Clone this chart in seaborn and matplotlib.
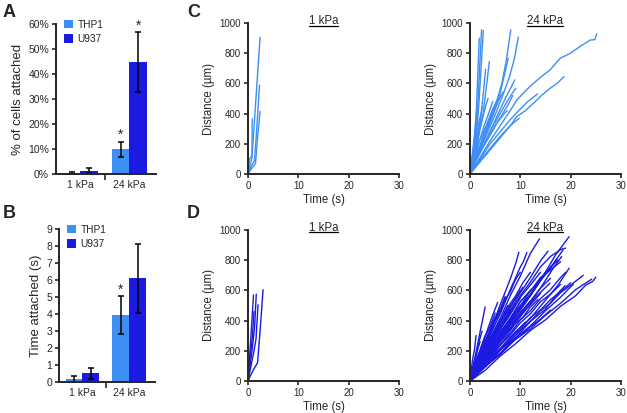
import numpy as np
import pandas as pd
import seaborn as sns
import matplotlib.pyplot as plt
from matplotlib.lines import Line2D
from matplotlib.ticker import PercentFormatter, MultipleLocator

# ---- bar data (panels A, B) ----
stiffness = ["1 kPa", "24 kPa"]
cell_lines = ["THP1", "U937"]
thp1_pct = [0.5, 10.0]
u937_pct = [1.3, 44.7]
thp1_pct_err = [0.4, 3.0]
u937_pct_err = [1.0, 12.0]
thp1_time = [0.16, 3.94]
u937_time = [0.5, 6.1]
thp1_time_err = [0.18, 1.1]
u937_time_err = [0.3, 2.05]
stars_a = [False, False, True, True]   # order: 1kPa THP1, 1kPa U937, 24kPa THP1, 24kPa U937
stars_b = [False, False, True, False]

# ---- trajectories (time s, distance um) ----
thp1_1kpa_tracks = [
    ([0, 0.3, 0.8, 0.85], [0, 100, 120, 365]),
    ([0, 0.8, 2.4], [0, 110, 905]),
    ([0, 0.5, 1.3, 1.6, 2.3], [0, 40, 90, 230, 590]),
    ([0, 0.6, 1.5, 1.8, 2.4], [0, 30, 70, 200, 415]),
]
thp1_24kpa_tracks = [
    ([0, 0.4, 0.9, 1.3, 1.6, 1.85], [0, 90, 240, 450, 700, 900]),
    ([0, 0.5, 1.0, 1.5, 1.9, 2.3], [0, 80, 210, 420, 690, 955]),
    ([0, 0.6, 1.2, 1.7, 2.2, 2.65], [0, 70, 230, 430, 700, 950]),
    ([0, 0.7, 1.4, 2.0, 2.6, 3.1], [0, 90, 200, 330, 520, 694]),
    ([0, 0.9, 1.8, 2.6, 3.3, 3.85], [0, 110, 260, 400, 590, 745]),
    ([0, 0.3, 0.8, 1.4], [0, 80, 230, 420]),
    ([0, 0.6, 1.2, 1.8, 2.4], [0, 70, 170, 300, 445]),
    ([0, 0.5, 1.1, 1.7, 2.1], [0, 120, 220, 330, 390]),
    ([0, 0.3, 0.7, 1.2], [0, 60, 170, 330]),
    ([0, 0.9, 2.0, 3.1, 4.2, 5.3, 6.4, 7.3, 8.1], [0, 100, 190, 300, 390, 480, 610, 770, 955]),
    ([0, 1.1, 2.4, 3.8, 5.1, 6.5, 7.8, 8.8, 9.6], [0, 90, 190, 300, 400, 520, 640, 760, 907]),
    ([0, 1.0, 2.1, 3.3, 4.6, 5.8, 6.8, 7.6], [0, 80, 170, 280, 390, 510, 650, 767]),
    ([0, 1.4, 2.9, 4.3, 5.8, 7.2, 8.3, 9.1], [0, 110, 200, 300, 390, 470, 530, 568]),
    ([0, 1.3, 2.7, 4.1, 5.6, 7.0, 8.1, 8.9], [0, 100, 190, 290, 400, 500, 570, 623]),
    ([0, 1.1, 2.3, 3.6, 4.9, 5.9, 6.6], [0, 100, 210, 320, 430, 500, 545]),
    ([0, 0.9, 1.9, 3.2, 4.5, 5.4, 6.0], [0, 110, 220, 320, 430, 490, 520]),
    ([0, 1.0, 2.3, 3.6, 4.6, 5.5], [0, 90, 210, 320, 410, 470]),
    ([0, 0.8, 1.8, 2.8, 3.7, 4.5], [0, 100, 210, 320, 400, 480]),
    ([0, 1.4, 2.8, 4.2, 5.6, 6.8, 7.4], [0, 100, 190, 270, 350, 400, 420]),
    ([0, 1.0, 2.4, 3.8, 5.2, 6.5, 7.6, 8.5], [0, 90, 170, 250, 330, 400, 460, 520]),
    ([0, 0.7, 1.6, 2.5, 3.1, 3.6], [0, 130, 260, 370, 450, 500]),
    ([0, 0.8, 1.6, 2.2, 2.6], [0, 140, 260, 340, 390]),
    ([0, 2, 4, 6, 8, 9.3, 11, 12.6, 14, 15.9, 17.9, 19.9, 21.9, 23.9, 24.8, 25.2],
     [0, 110, 220, 320, 420, 490, 550, 600, 640, 689, 766, 799, 845, 887, 890, 929]),
    ([0, 2, 4, 6, 8, 9.3, 11, 12.6, 14.2, 15.9, 17.3, 18.7],
     [0, 80, 160, 240, 320, 380, 420, 468, 520, 567, 600, 645]),
    ([0, 2, 4, 6, 8, 10, 11.5, 13.4], [0, 100, 200, 280, 360, 430, 480, 530]),
    ([0, 2, 4, 6, 8, 9.8], [0, 90, 170, 250, 320, 370]),
]
u937_1kpa_tracks = [
    ([0, 0.5, 1.1], [0, 250, 570]),
    ([0, 0.8, 1.3, 1.65], [0, 200, 350, 575]),
    ([0, 0.6, 1.2, 1.6, 2.0], [0, 100, 200, 280, 505]),
    ([0, 1.0, 1.9, 2.4, 3.0], [0, 70, 120, 330, 605]),
    ([0, 0.4, 0.9, 1.2], [0, 150, 300, 460]),
]
u937_24kpa_tracks = [
    ([0, 3, 6, 9, 12, 15, 18, 21, 23, 24.4, 25], [0, 70, 165, 245, 335, 405, 495, 565, 635, 660, 688]),
    ([0, 3, 6, 9, 12, 15, 18, 21, 24.2], [0, 95, 175, 275, 345, 435, 515, 605, 675]),
    ([0, 3, 6, 9, 12, 15, 17, 18.9], [0, 100, 205, 285, 395, 475, 565, 631]),
    ([0, 3, 6, 9, 12, 15, 17.5, 19.7], [0, 115, 215, 325, 415, 535, 635, 747]),
    ([0, 2.5, 5, 8, 11, 14, 16.5, 18.2], [0, 105, 235, 345, 485, 615, 745, 824]),
    ([0, 2.5, 5, 8, 11, 14, 16.5, 18.5], [0, 125, 245, 385, 515, 665, 775, 868]),
    ([0, 2.5, 5, 8, 11, 14, 17, 19.7], [0, 115, 245, 375, 525, 665, 835, 956]),
    ([0, 2, 4, 7, 10, 13, 15.9], [0, 105, 185, 315, 425, 555, 648]),
    ([0, 2, 4, 6, 8, 10, 12, 13.8], [0, 135, 285, 415, 565, 695, 845, 941]),
    ([0, 2, 4, 6, 8, 9.2, 9.7], [0, 175, 325, 505, 675, 790, 853]),
    ([0, 2, 4, 6, 8, 10, 10.6, 11.3], [0, 145, 305, 445, 605, 755, 790, 851]),
    ([0, 1, 2, 2.6, 3], [0, 155, 325, 420, 490]),
    ([0, 0.5, 0.9, 1.2], [0, 140, 210, 301]),
    ([0, 2, 4, 6, 8, 10, 12], [0, 105, 195, 315, 415, 525, 600]),
    ([0, 2, 4, 6, 8, 10], [0, 115, 225, 345, 445, 550]),
    ([0, 2, 4, 6, 8, 10, 12, 14], [0, 85, 165, 265, 345, 435, 505, 580]),
    ([0, 2, 4, 6, 8, 10, 12, 14, 16], [0, 95, 175, 285, 365, 455, 525, 615, 680]),
    ([0, 2, 4, 6, 8, 10, 12, 14, 16, 17.5], [0, 105, 205, 305, 395, 495, 575, 675, 755, 800]),
    ([0, 2, 4, 6, 8], [0, 135, 255, 395, 500]),
    ([0, 1.5, 3, 4.5, 6], [0, 125, 245, 385, 480]),
    ([0, 1.5, 3, 4.5, 6, 7.5], [0, 105, 195, 305, 395, 500]),
    ([0, 2, 4, 6, 8, 10, 12, 14, 16, 18], [0, 75, 145, 235, 305, 385, 445, 525, 575, 640]),
    ([0, 2, 4, 6, 8, 10, 12, 14, 16, 18, 19], [0, 85, 155, 245, 315, 405, 465, 545, 605, 685, 720]),
    ([0, 2, 4, 6, 8, 10, 12, 14, 16, 17.3], [0, 95, 185, 295, 385, 485, 565, 665, 745, 810]),
    ([0, 2, 4, 6, 8, 10, 12, 14, 15.5], [0, 125, 235, 365, 465, 585, 685, 795, 860]),
    ([0, 1, 2, 3, 4, 5], [0, 95, 165, 265, 335, 420]),
    ([0, 1, 2, 3, 4], [0, 75, 135, 215, 280]),
    ([0, 1, 2, 3, 4, 5, 6, 7], [0, 65, 115, 195, 245, 315, 365, 420]),
    ([0, 2, 4, 6, 8, 10, 11], [0, 65, 125, 205, 275, 355, 390]),
    ([0, 2, 4, 6, 8, 10, 12, 14, 16, 18, 20, 22.5], [0, 65, 125, 205, 265, 335, 395, 465, 515, 585, 635, 700]),
    ([0, 1, 2, 3], [0, 115, 205, 300]),
    ([0, 0.5, 1, 1.5, 2], [0, 75, 125, 205, 260]),
    ([0, 2, 4, 6, 8, 10, 12, 14, 16, 18, 19], [0, 115, 225, 345, 445, 565, 655, 755, 825, 870, 880]),
    ([0, 2, 4, 6, 8, 10, 12, 14, 16, 18], [0, 105, 205, 325, 415, 525, 595, 685, 735, 790]),
    ([0, 3, 6, 9, 12, 15, 18, 20.5], [0, 95, 185, 285, 365, 465, 555, 640]),
    ([0, 2, 4, 6, 8, 10, 12, 14], [0, 135, 245, 365, 455, 555, 635, 720]),
    ([0, 2, 4, 6, 8, 10], [0, 145, 265, 395, 495, 600]),
    ([0, 2, 4, 6, 7], [0, 165, 335, 475, 560]),
    ([0, 1.5, 3, 4.5, 5.5], [0, 155, 295, 435, 520]),
    ([0, 1.5, 3, 4.5, 6, 7.5, 9], [0, 85, 175, 255, 345, 415, 500]),
    ([0, 1.5, 3, 4.5, 6, 7.5, 9, 10.5], [0, 95, 195, 285, 385, 455, 545, 620]),
    ([0, 1, 2, 3, 4, 5, 6, 7, 8, 9], [0, 55, 95, 160, 200, 265, 300, 360, 395, 450]),
    ([0, 1, 2, 3, 4, 5, 6, 7, 8, 9, 10, 11, 12], [0, 60, 100, 140, 195, 230, 280, 320, 370, 400, 450, 490, 530]),
    ([0, 1, 2, 3, 4, 5, 6], [0, 80, 150, 200, 270, 330, 400]),
    ([0, 1, 2, 3, 4, 5, 6, 7, 8], [0, 70, 140, 190, 260, 300, 370, 410, 470]),
    ([0, 1.5, 3, 4.5, 6, 7.5, 9, 10.5, 12, 13.5], [0, 60, 140, 190, 260, 310, 380, 420, 490, 540]),
    ([0, 1, 2, 3, 4, 5, 6, 7, 8, 9, 10], [0, 90, 160, 250, 310, 400, 450, 540, 590, 670, 720]),
    ([0, 2, 4, 6, 8, 10, 12, 14, 16, 18, 20], [0, 70, 150, 210, 290, 340, 420, 470, 540, 590, 650]),
    ([0, 1, 2, 3, 4, 5], [0, 110, 190, 290, 360, 450]),
    ([0, 2, 4, 5, 6, 7, 8], [0, 120, 230, 300, 340, 410, 460]),
    ([0, 0.6, 1.2, 1.8, 2.4], [0, 100, 180, 260, 330]),
    ([0, 1.5, 3, 4.5, 6, 7.5, 9, 10.5, 12, 13.5, 15], [0, 80, 170, 230, 320, 380, 460, 520, 600, 650, 720]),
    ([0, 2, 4, 6, 8, 10, 12, 14, 16], [0, 60, 130, 180, 250, 300, 360, 410, 470]),
    ([0, 1.5, 3, 4.5, 6, 7.5, 9, 10.5, 12], [0, 110, 200, 310, 390, 490, 560, 650, 720]),
    ([0, 1, 2, 3, 4, 5, 6, 7], [0, 100, 170, 260, 320, 410, 470, 550]),
]

c_thp1 = "#3d8ff5"
c_u937 = "#1a1ae0"

sns.set_style("ticks")
plt.rcParams["font.family"] = ["Liberation Sans", "DejaVu Sans"]
plt.rcParams["axes.linewidth"] = 1.4
plt.rcParams["xtick.major.width"] = 1.2
plt.rcParams["ytick.major.width"] = 1.2
plt.rcParams["xtick.minor.width"] = 1.2

fig = plt.figure(figsize=(6.27, 4.13), dpi=100)


def bar_panel(ax, thp1, u937, thp1_err, u937_err, stars, ymax, ylabel):
    df = pd.DataFrame({
        "stiffness": stiffness * 2,
        "cells": ["THP1"] * 2 + ["U937"] * 2,
        "val": thp1 + u937,
        "err": thp1_err + u937_err,
    })
    sns.barplot(data=df, x="stiffness", y="val", hue="cells", palette=[c_thp1, c_u937],
                width=0.72, errorbar=None, saturation=1, ax=ax, linewidth=0)
    df = df.sort_values(["stiffness", "cells"]).reset_index(drop=True)
    bars = sorted([p for p in ax.patches if p.get_height() > 0], key=lambda p: p.get_x())
    for p, (_, row), star in zip(bars, df.iterrows(), stars):
        xc = p.get_x() + p.get_width() / 2
        ax.errorbar(xc, row.val, yerr=row.err, color="black", lw=1.1, capsize=2.5, capthick=1.1)
        if star:
            ax.text(xc, row.val + row.err + ymax * 0.045, "*", ha="center", va="center", fontsize=10)
    ax.set_xlim(-0.5, 1.55)
    ax.set_ylim(0, ymax)
    ax.set_xlabel("")
    ax.set_ylabel(ylabel, fontsize=9.5, labelpad=3)
    ax.tick_params(axis="x", length=0, labelsize=7.5, pad=4)
    ax.tick_params(axis="y", length=3, labelsize=7.5, pad=2)
    ax.set_xticks([0.5], minor=True)
    ax.tick_params(axis="x", which="minor", length=4, direction="out")
    sns.despine(ax=ax)
    ax.legend(loc="upper left", bbox_to_anchor=(0.08, 1.03), frameon=False, fontsize=7.3,
              handlelength=0.9, handleheight=0.9, handletextpad=0.45, labelspacing=0.45,
              borderaxespad=0, borderpad=0)


def track_panel(ax, tracks, color, title):
    rows = []
    for i, (t, d) in enumerate(tracks):
        for tt, dd in zip(t, d):
            rows.append({"track": i, "t": tt, "d": dd})
    df = pd.DataFrame(rows)
    sns.lineplot(data=df, x="t", y="d", units="track", estimator=None, sort=False,
                 color=color, lw=1.0, ax=ax)
    ax.set_xlim(0, 30)
    ax.set_ylim(0, 1000)
    ax.xaxis.set_major_locator(MultipleLocator(10))
    ax.yaxis.set_major_locator(MultipleLocator(200))
    ax.set_xlabel("Time (s)", fontsize=8.3, labelpad=2)
    ax.set_ylabel("Distance (µm)", fontsize=8.3, labelpad=3)
    ax.tick_params(length=3, labelsize=7, pad=2)
    sns.despine(ax=ax)
    return ax.text(0.5, 1 - 1.0 / 151, title, transform=ax.transAxes, ha="center",
                   va="baseline", fontsize=8.3)


ax_a = fig.add_axes([0.0893, 0.5787, 0.160, 0.363])
bar_panel(ax_a, thp1_pct, u937_pct, thp1_pct_err, u937_pct_err, stars_a, 60, "% of cells attached")
ax_a.yaxis.set_major_locator(MultipleLocator(10))
ax_a.yaxis.set_major_formatter(PercentFormatter(decimals=0))

ax_b = fig.add_axes([0.0941, 0.0751, 0.153, 0.370])
bar_panel(ax_b, thp1_time, u937_time, thp1_time_err, u937_time_err, stars_b, 9, "Time attached (s)")
ax_b.yaxis.set_major_locator(MultipleLocator(1))

titles = []
for rect, tracks, color, title in [
    ([0.3955, 0.5787, 0.2408, 0.3656], thp1_1kpa_tracks, c_thp1, "1 kPa"),
    ([0.7496, 0.5787, 0.2408, 0.3656], thp1_24kpa_tracks, c_thp1, "24 kPa"),
    ([0.3955, 0.0775, 0.2408, 0.3656], u937_1kpa_tracks, c_u937, "1 kPa"),
    ([0.7496, 0.0775, 0.2408, 0.3656], u937_24kpa_tracks, c_u937, "24 kPa"),
]:
    ax = fig.add_axes(rect)
    titles.append((ax, track_panel(ax, tracks, color, title)))

for lbl, x, y in [("A", 0.004, 0.99), ("B", 0.004, 0.503), ("C", 0.298, 0.99), ("D", 0.298, 0.503)]:
    fig.text(x, y, lbl, fontsize=13, fontweight="bold", va="top", ha="left")

# underline the panel titles
fig.canvas.draw()
inv = fig.transFigure.inverted()
for ax, txt in titles:
    bb = txt.get_window_extent()
    top = ax.get_window_extent().y1
    (x0, y), (x1, _) = inv.transform([(bb.x0, top - 2.5), (bb.x1, top - 2.5)])
    fig.add_artist(Line2D([x0, x1], [y, y], color="black", lw=0.9, transform=fig.transFigure))

fig.savefig("out.png", dpi=100)
